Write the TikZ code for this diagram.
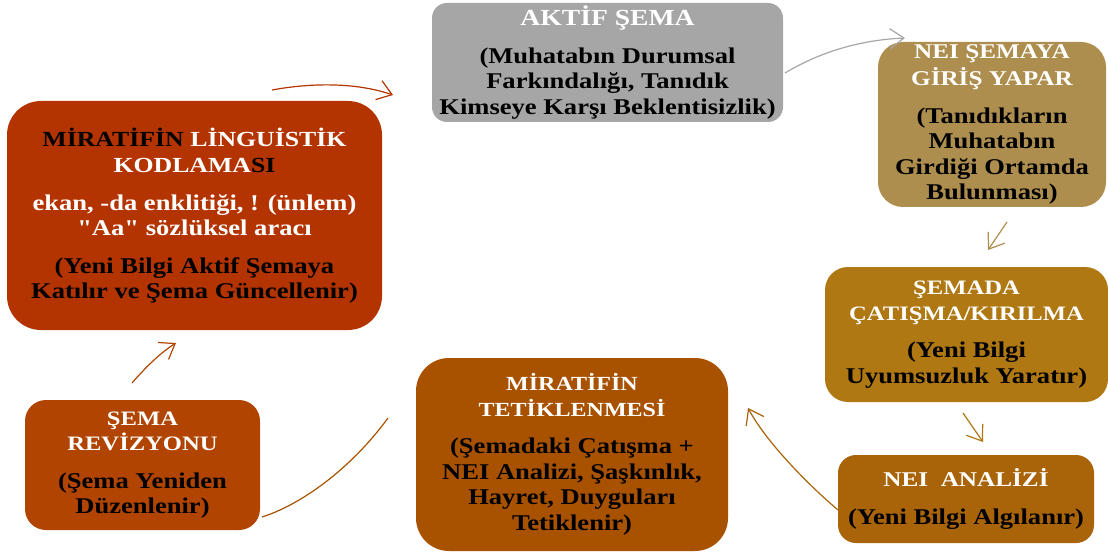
\documentclass[tikz,border=0pt]{standalone}
\usepackage{fontspec}
\setmainfont{Liberation Serif}
\newfontfamily\bodyfont[FakeStretch=1.18]{Liberation Serif}
\newfontfamily\headfont[FakeStretch=1.2]{Liberation Serif}
\usetikzlibrary{arrows.meta}

% fills of the stages
\definecolor{cAktif}{HTML}{A6A6A6}
\definecolor{cGiris}{HTML}{AD8E4E}
\definecolor{cCatisma}{HTML}{AF7812}
\definecolor{cAnaliz}{HTML}{A96308}
\definecolor{cTetik}{HTML}{A85200}
\definecolor{cReviz}{HTML}{B04400}
\definecolor{cKod}{HTML}{B33400}

% white heading line of a stage, optional font size
\newcommand\stagehead[2][21]{{\headfont\bfseries\fontsize{#1}{25.5}\selectfont\color{white}#2}}

\tikzset{
  stage/.style={align=center, inner sep=0pt, text=black,
    font=\bodyfont\bfseries\fontsize{22.5}{25.5}\selectfont},
  link/.style={line width=1.2pt,
    -{Straight Barb[length=14pt,width=20pt,line width=1.2pt]}},
  plainlink/.style={line width=1.2pt}
}

\begin{document}
\begin{tikzpicture}[x=1pt,y=-1pt]
\useasboundingbox (0,0) rectangle (1108,556);

% stages of the cycle
\node[stage, fill=cAktif, minimum width=351pt, minimum height=119pt,
      rounded corners=15pt] (aktif) at (607.5,62.5)
  {\stagehead[23]{AKTİF ŞEMA}\\[12pt]
   (Muhatabın Durumsal\\ Farkındalığı, Tanıdık\\ Kimseye Karşı Beklentisizlik)};

\node[stage, fill=cGiris, minimum width=228pt, minimum height=165pt,
      rounded corners=25pt] (giris) at (992,124.5)
  {\stagehead{NEI ŞEMAYA}\\[2pt] \stagehead{GİRİŞ YAPAR}\\[12pt]
   (Tanıdıkların\\ Muhatabın\\ Girdiği Ortamda\\ Bulunması)};

\node[stage, fill=cCatisma, minimum width=283pt, minimum height=135pt,
      rounded corners=23pt] (catisma) at (966.5,334.5)
  {\stagehead[20.5]{ŞEMADA}\\ \stagehead[20.5]{ÇATIŞMA/KIRILMA}\\[12pt]
   (Yeni Bilgi\\ Uyumsuzluk Yaratır)};

\node[stage, fill=cAnaliz, minimum width=256pt, minimum height=88pt,
      rounded corners=18pt] (analiz) at (966,499)
  {\stagehead{NEI~~ANALİZİ}\\[12pt] (Yeni Bilgi Algılanır)};

\node[stage, fill=cTetik, minimum width=312pt, minimum height=193pt,
      rounded corners=33pt] (tetik) at (572,454.5)
  {\stagehead[20]{MİRATİFİN}\\ \stagehead[20]{TETİKLENMESİ}\\[12pt]
   (Şemadaki Çatışma +\\ NEI Analizi, Şaşkınlık,\\ Hayret, Duyguları\\ Tetiklenir)};

\node[stage, fill=cReviz, minimum width=235pt, minimum height=130pt,
      rounded corners=21pt] (reviz) at (142.5,465)
  {\stagehead[20.5]{ŞEMA}\\ \stagehead[20.5]{REVİZYONU}\\[12pt]
   (Şema Yeniden\\ Düzenlenir)};

\node[stage, fill=cKod, minimum width=375pt, minimum height=229pt,
      rounded corners=34pt] (kod) at (194.5,215.5)
  {\stagehead[21.5]{{\color{black}MİRATİFİN} LİNGUİSTİK}\\[1pt]
   \stagehead[21.5]{KODLAMA{\color{black}SI}}\\[12pt]
   {\color{white}ekan, -da enklitiği, ! (ünlem)}\\
   {\color{white}"Aa" sözlüksel aracı}\\[12pt]
   (Yeni Bilgi Aktif Şemaya\\ Katılır ve Şema Güncellenir)};

% free ends of the connectors
\coordinate (kodOut)     at (272,90);
\coordinate (aktifIn)    at (393,95);
\coordinate (aktifOut)   at (785,73);
\coordinate (girisIn)    at (905,38);
\coordinate (girisOut)   at (1007,222);
\coordinate (catismaIn)  at (988,250);
\coordinate (catismaOut) at (963,413);
\coordinate (analizIn)   at (983,442);
\coordinate (analizOut)  at (838,510);
\coordinate (tetikIn)    at (748,408);
\coordinate (tetikOut)   at (388,418);
\coordinate (revizIn)    at (262,517);
\coordinate (revizOut)   at (132,383);
\coordinate (kodIn)      at (176,343);

% connectors
\draw[link, draw=cKod] (kodOut) .. controls (310,83) and (355,82) .. (aktifIn);
\draw[link, draw=cAktif] (aktifOut) .. controls (820,52) and (860,40) .. (girisIn);
\draw[link, draw=cGiris] (girisOut) -- (catismaIn);
\draw[link, draw=cCatisma] (catismaOut) -- (analizIn);
\draw[link, draw=cAnaliz] (analizOut) .. controls (805,482) and (765,440) .. (tetikIn);
\draw[plainlink, draw=cTetik] (tetikOut) .. controls (350,470) and (300,505) .. (revizIn);
\draw[link, draw=cReviz] (revizOut) .. controls (145,368) and (160,353) .. (kodIn);
\end{tikzpicture}
\end{document}
